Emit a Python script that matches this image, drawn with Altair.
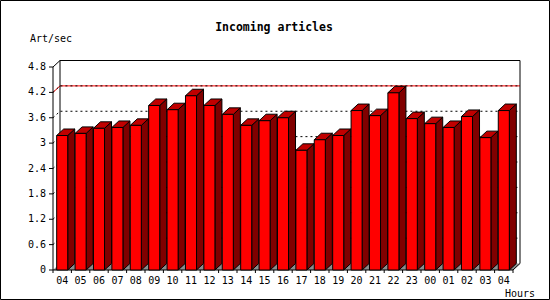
import altair as alt
import pandas as pd

# ---- data ----
hours = ["04", "05", "06", "07", "08", "09", "10", "11", "12", "13", "14", "15",
         "16", "17", "18", "19", "20", "21", "22", "23", "00", "01", "02", "03", "04"]
values = [3.18, 3.23, 3.35, 3.37, 3.42, 3.89, 3.79, 4.12, 3.89, 3.68, 3.42, 3.53,
          3.60, 2.83, 3.08, 3.18, 3.77, 3.65, 4.19, 3.58, 3.46, 3.37, 3.63, 3.13, 3.77]
y_ticks = [0, 0.6, 1.2, 1.8, 2.4, 3, 3.6, 4.2, 4.8]
y_tick_labels = ["0", "0.6", "1.2", "1.8", "2.4", "3", "3.6", "4.2", "4.8"]
highlight_tick = 4.2
chart_title = "Incoming articles"
y_title = "Art/sec"
x_title = "Hours"

# ---- geometry ----
W, H = 460, 203
N = len(hours)
YMAX = y_ticks[-1]
DX = 7.0 / (W / N)        # 3D depth, in category units
DY = 6.5 / (H / YMAX)     # 3D depth, in value units
BL, BR = 0.2, 0.8         # front face inside each category

FONT = "DejaVu Sans Mono"
xsc = alt.Scale(domain=[0, N], nice=False, zero=False)
ysc = alt.Scale(domain=[0, YMAX], nice=False, zero=False)


def X(f):
    return alt.X(f, type="quantitative", scale=xsc, axis=None, stack=None)


def Y(f):
    return alt.Y(f, type="quantitative", scale=ysc, axis=None, stack=None)


# ---- tables built from the arrays ----
front = pd.DataFrame({"i": range(N), "v": values})
front["x0"] = front["i"] + BL
front["x1"] = front["i"] + BR
front["zero"] = 0.0

side_rows, top_rows = [], []
for i, v in enumerate(values):
    side_rows.append({"bar": i, "x": i + BR, "y": v, "y2": 0.0})
    side_rows.append({"bar": i, "x": i + BR + DX, "y": v + DY, "y2": DY})
    top_rows.append({"bar": i, "y": v, "x": i + BL, "x2": i + BR})
    top_rows.append({"bar": i, "y": v + DY, "x": i + BL + DX, "x2": i + BR + DX})
side = pd.DataFrame(side_rows)
top = pd.DataFrame(top_rows)

floor = pd.DataFrame([{"y": 0.0, "x": 0.0, "x2": float(N)},
                      {"y": DY, "x": DX, "x2": N + DX}])

grid_rows, red_rows = [], []
for t in y_ticks[1:-1]:
    pts = [(0.0, t), (DX, t + DY), (N + DX, t + DY)]
    for k, (px, py) in enumerate(pts):
        grid_rows.append({"line": str(t), "o": k, "x": px, "y": py})
        if t == highlight_tick:
            red_rows.append({"line": str(t), "o": k, "x": px, "y": py})
grid = pd.DataFrame(grid_rows)
red = pd.DataFrame(red_rows)

frame_pts = {
    "top": [(0.0, YMAX), (DX, YMAX + DY), (N + DX, YMAX + DY), (N + DX, DY), (float(N), 0.0)],
    "left": [(DX, DY), (DX, YMAX + DY)],
    "yaxis": [(0.0, 0.0), (0.0, YMAX)],
    "xaxis": [(0.0, 0.0), (float(N), 0.0)],
}
frame = pd.DataFrame([{"line": k, "o": j, "x": px, "y": py}
                      for k, pts in frame_pts.items() for j, (px, py) in enumerate(pts)])

labels = pd.DataFrame({"xc": [i + 0.5 for i in range(N)], "lab": hours, "zero": 0.0})
xticks = pd.DataFrame({"xb": [float(i) for i in range(N + 1)], "zero": 0.0})
yticks = pd.DataFrame({"t": y_ticks, "lab": y_tick_labels, "zero": 0.0})

# ---- layers ----
border = alt.Chart(pd.DataFrame({"a": [0]})).mark_rect(
    filled=False, stroke="black", strokeWidth=1
).encode(x=alt.value(-52.5), x2=alt.value(496.5), y=alt.value(-66.5), y2=alt.value(232.5))

floor_l = alt.Chart(floor).mark_area(orient="horizontal", color="#8c8c8c").encode(
    y=Y("y"), x=X("x"), x2="x2:Q")

red_l = alt.Chart(red).mark_line(color="#ff0000", strokeWidth=1).encode(
    x=X("x"), y=Y("y"), detail="line:N", order="o:Q")
grid_l = alt.Chart(grid).mark_line(color="black", strokeWidth=1, strokeDash=[2, 3]).encode(
    x=X("x"), y=Y("y"), detail="line:N", order="o:Q")
frame_l = alt.Chart(frame).mark_line(color="black", strokeWidth=1).encode(
    x=X("x"), y=Y("y"), detail="line:N", order="o:Q")

side_l = alt.Chart(side).mark_area(
    orient="vertical", color="#800000", stroke="black", strokeWidth=1
).encode(x=X("x"), y=Y("y"), y2="y2:Q", detail="bar:N")
top_l = alt.Chart(top).mark_area(
    orient="horizontal", color="#c00000", stroke="black", strokeWidth=1
).encode(y=Y("y"), x=X("x"), x2="x2:Q", detail="bar:N")
front_l = alt.Chart(front).mark_rect(color="#ff0000", stroke="black", strokeWidth=1).encode(
    x=X("x0"), x2="x1:Q", y=Y("v"), y2="zero:Q")

xtick_l = alt.Chart(xticks).mark_rule(color="black", strokeWidth=1).encode(
    x=X("xb"), y=alt.value(H), y2=alt.value(H + 3))
ytick_l = alt.Chart(yticks).mark_rule(color="black", strokeWidth=1).encode(
    y=Y("t"), x=alt.value(-4), x2=alt.value(0))
ylab_l = alt.Chart(yticks).mark_text(font=FONT, fontSize=10, color="black", dx=-7,
                                     align="right", baseline="middle").encode(
    y=Y("t"), x=alt.value(0), text="lab:N")

lab_l = alt.Chart(labels).mark_text(font=FONT, fontSize=10, color="black", dy=11,
                                    baseline="middle", align="center").encode(
    x=X("xc"), y=Y("zero"), text="lab:N")

texts = pd.DataFrame({
    "t": [chart_title, y_title, x_title],
    "k": ["title", "y", "x"],
})
title_l = alt.Chart(texts[texts.k == "title"]).mark_text(
    font=FONT, fontSize=11.5, fontWeight="bold", color="black", align="center", baseline="middle"
).encode(x=alt.value(221), y=alt.value(-39), text="t:N")
ytitle_l = alt.Chart(texts[texts.k == "y"]).mark_text(
    font=FONT, fontSize=10, color="black", align="left", baseline="middle"
).encode(x=alt.value(-23), y=alt.value(-28), text="t:N")
xtitle_l = alt.Chart(texts[texts.k == "x"]).mark_text(
    font=FONT, fontSize=10, color="black", align="left", baseline="middle"
).encode(x=alt.value(452), y=alt.value(H + 24), text="t:N")

chart = alt.layer(
    border, floor_l, red_l, grid_l, frame_l, side_l, top_l, front_l,
    xtick_l, ytick_l, ylab_l, lab_l, title_l, ytitle_l, xtitle_l
).properties(
    width=W, height=H,
    autosize=alt.AutoSizeParams(type="none"),
    padding={"left": 53, "top": 67, "right": 37, "bottom": 30},
    background="white",
).configure_view(
    strokeWidth=0
)

chart.save("out.html", embed_options={"renderer": "svg", "actions": False})
